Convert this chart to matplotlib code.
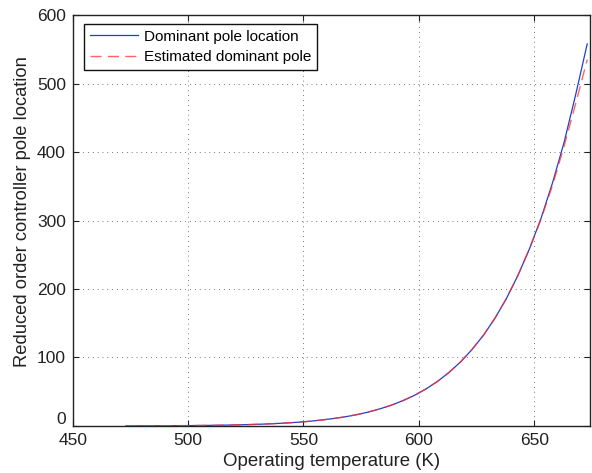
import matplotlib
matplotlib.use("Agg")
import matplotlib.pyplot as plt
import matplotlib.transforms as mtransforms

# Operating temperature (K)
temperature = [473, 478, 483, 488, 493, 498, 503, 508, 513, 518, 523, 528, 533, 538,
               543, 548, 553, 558, 563, 568, 573, 578, 583, 588, 593, 598, 603, 608,
               613, 618, 623, 628, 633, 638, 643, 648, 653, 658, 663, 668, 673]

# Dominant pole location
dominant_pole = [0.11, 0.14, 0.19, 0.26, 0.34, 0.45, 0.6, 0.78, 1.0, 1.3, 1.7, 2.15,
                 2.75, 3.5, 4.4, 5.5, 6.9, 8.7, 10.8, 13.3, 16.4, 20.2, 24.8, 30.2,
                 36.8, 44.5, 53.8, 64.8, 77.9, 93.2, 111.4, 132.4, 157.3, 186.3,
                 220.1, 259.0, 303.5, 355.5, 414.5, 484.0, 558.0]

# Estimated dominant pole
estimated_pole = [0.11, 0.14, 0.19, 0.26, 0.34, 0.45, 0.6, 0.78, 1.0, 1.3, 1.7, 2.15,
                  2.75, 3.5, 4.4, 5.5, 6.9, 8.7, 10.8, 13.3, 16.4, 20.2, 24.8, 30.2,
                  36.8, 44.5, 53.8, 64.8, 77.9, 93.2, 111.4, 132.4, 157.3, 186.3,
                  220.1, 259.0, 302.0, 352.0, 409.0, 471.0, 535.0]

x_ticks = [450, 500, 550, 600, 650]
y_ticks = [0, 100, 200, 300, 400, 500, 600]

plt.rcParams["font.family"] = ["Liberation Sans", "DejaVu Sans"]

fig = plt.figure(figsize=(5.92, 4.73), dpi=100)
ax = fig.add_axes([0.123, 0.0995, 0.874, 0.8685])

ax.plot(temperature, dominant_pole, color="#1f3fd0", linewidth=0.9,
        label="Dominant pole location", zorder=3)
ax.plot(temperature, estimated_pole, color="#ff3030", linewidth=1.0, alpha=0.75,
        dashes=(8, 4.5), label="Estimated dominant pole", zorder=4)

ax.set_xlim(450, 674.3)
ax.set_ylim(0, 600)
ax.set_xticks(x_ticks)
ax.set_yticks(y_ticks)

ax.grid(True, color="#222222", linewidth=0.7, dashes=(0.6, 4.4))
ax.tick_params(direction="in", length=4, width=0.8, top=True, right=True,
               labelsize=12.5, colors="#222222", pad=5)
for sp in ax.spines.values():
    sp.set_linewidth(1.0)
    sp.set_color("#222222")

# nudge the "0" label up so it clears the first x tick label
zero_label = ax.yaxis.get_major_ticks()[0].label1
zero_label.set_transform(zero_label.get_transform() +
                         mtransforms.ScaledTranslation(0, 6 / 72, fig.dpi_scale_trans))

ax.set_xlabel("Operating temperature (K)", fontsize=13.4, color="#222222", labelpad=4)
ax.set_ylabel("Reduced order controller pole location", fontsize=13.2,
              color="#222222")
ax.yaxis.set_label_coords(-0.081, 0.523)

leg = ax.legend(loc="upper left", bbox_to_anchor=(0.022, 0.978), borderaxespad=0,
                fontsize=11, frameon=True, fancybox=False, framealpha=1,
                edgecolor="#111111", handlelength=3.2, handletextpad=0.35,
                borderpad=0.35, labelspacing=0.45)
leg.get_frame().set_linewidth(1.0)

fig.savefig("out.png", dpi=100)
